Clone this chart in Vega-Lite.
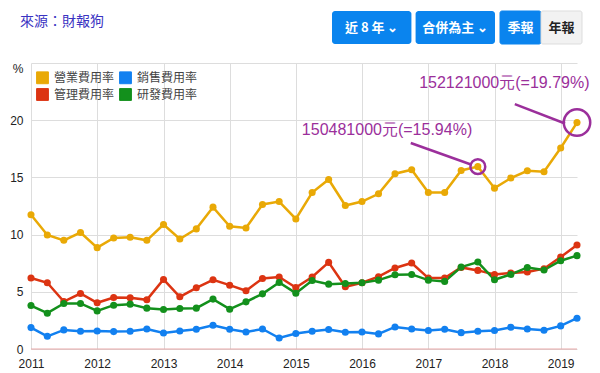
{
  "$schema": "https://vega.github.io/schema/vega-lite/v6.json",
  "background": "white",
  "padding": {"left": 9, "top": 10, "right": 0, "bottom": 0},
  "config": {
    "view": {"stroke": null},
    "font": "Liberation Sans"
  },
  "datasets": {
    "rates": [
      {"q": "2011-01-01", "s": "營業費用率", "v": 11.73}, {"q": "2011-04-01", "s": "營業費用率", "v": 9.97}, {"q": "2011-07-01", "s": "營業費用率", "v": 9.5}, {"q": "2011-10-01", "s": "營業費用率", "v": 10.18},
      {"q": "2012-01-01", "s": "營業費用率", "v": 8.86}, {"q": "2012-04-01", "s": "營業費用率", "v": 9.71}, {"q": "2012-07-01", "s": "營業費用率", "v": 9.77}, {"q": "2012-10-01", "s": "營業費用率", "v": 9.5},
      {"q": "2013-01-01", "s": "營業費用率", "v": 10.88}, {"q": "2013-04-01", "s": "營業費用率", "v": 9.62}, {"q": "2013-07-01", "s": "營業費用率", "v": 10.5}, {"q": "2013-10-01", "s": "營業費用率", "v": 12.4},
      {"q": "2014-01-01", "s": "營業費用率", "v": 10.73}, {"q": "2014-04-01", "s": "營業費用率", "v": 10.58}, {"q": "2014-07-01", "s": "營業費用率", "v": 12.63}, {"q": "2014-10-01", "s": "營業費用率", "v": 12.89},
      {"q": "2015-01-01", "s": "營業費用率", "v": 11.37}, {"q": "2015-04-01", "s": "營業費用率", "v": 13.68}, {"q": "2015-07-01", "s": "營業費用率", "v": 14.82}, {"q": "2015-10-01", "s": "營業費用率", "v": 12.54},
      {"q": "2016-01-01", "s": "營業費用率", "v": 12.89}, {"q": "2016-04-01", "s": "營業費用率", "v": 13.57}, {"q": "2016-07-01", "s": "營業費用率", "v": 15.32}, {"q": "2016-10-01", "s": "營業費用率", "v": 15.67},
      {"q": "2017-01-01", "s": "營業費用率", "v": 13.68}, {"q": "2017-04-01", "s": "營業費用率", "v": 13.68}, {"q": "2017-07-01", "s": "營業費用率", "v": 15.61}, {"q": "2017-10-01", "s": "營業費用率", "v": 15.94},
      {"q": "2018-01-01", "s": "營業費用率", "v": 14.06}, {"q": "2018-04-01", "s": "營業費用率", "v": 14.94}, {"q": "2018-07-01", "s": "營業費用率", "v": 15.58}, {"q": "2018-10-01", "s": "營業費用率", "v": 15.5},
      {"q": "2019-01-01", "s": "營業費用率", "v": 17.57}, {"q": "2019-04-01", "s": "營業費用率", "v": 19.79},

      {"q": "2011-01-01", "s": "銷售費用率", "v": 1.87}, {"q": "2011-04-01", "s": "銷售費用率", "v": 1.11}, {"q": "2011-07-01", "s": "銷售費用率", "v": 1.67}, {"q": "2011-10-01", "s": "銷售費用率", "v": 1.55},
      {"q": "2012-01-01", "s": "銷售費用率", "v": 1.58}, {"q": "2012-04-01", "s": "銷售費用率", "v": 1.52}, {"q": "2012-07-01", "s": "銷售費用率", "v": 1.55}, {"q": "2012-10-01", "s": "銷售費用率", "v": 1.75},
      {"q": "2013-01-01", "s": "銷售費用率", "v": 1.4}, {"q": "2013-04-01", "s": "銷售費用率", "v": 1.58}, {"q": "2013-07-01", "s": "銷售費用率", "v": 1.72}, {"q": "2013-10-01", "s": "銷售費用率", "v": 2.08},
      {"q": "2014-01-01", "s": "銷售費用率", "v": 1.72}, {"q": "2014-04-01", "s": "銷售費用率", "v": 1.49}, {"q": "2014-07-01", "s": "銷售費用率", "v": 1.75}, {"q": "2014-10-01", "s": "銷售費用率", "v": 0.96},
      {"q": "2015-01-01", "s": "銷售費用率", "v": 1.35}, {"q": "2015-04-01", "s": "銷售費用率", "v": 1.55}, {"q": "2015-07-01", "s": "銷售費用率", "v": 1.7}, {"q": "2015-10-01", "s": "銷售費用率", "v": 1.46},
      {"q": "2016-01-01", "s": "銷售費用率", "v": 1.49}, {"q": "2016-04-01", "s": "銷售費用率", "v": 1.32}, {"q": "2016-07-01", "s": "銷售費用率", "v": 1.93}, {"q": "2016-10-01", "s": "銷售費用率", "v": 1.75},
      {"q": "2017-01-01", "s": "銷售費用率", "v": 1.61}, {"q": "2017-04-01", "s": "銷售費用率", "v": 1.72}, {"q": "2017-07-01", "s": "銷售費用率", "v": 1.43}, {"q": "2017-10-01", "s": "銷售費用率", "v": 1.55},
      {"q": "2018-01-01", "s": "銷售費用率", "v": 1.61}, {"q": "2018-04-01", "s": "銷售費用率", "v": 1.9}, {"q": "2018-07-01", "s": "銷售費用率", "v": 1.75}, {"q": "2018-10-01", "s": "銷售費用率", "v": 1.64},
      {"q": "2019-01-01", "s": "銷售費用率", "v": 2.02}, {"q": "2019-04-01", "s": "銷售費用率", "v": 2.69},

      {"q": "2011-01-01", "s": "管理費用率", "v": 6.2}, {"q": "2011-04-01", "s": "管理費用率", "v": 5.79}, {"q": "2011-07-01", "s": "管理費用率", "v": 4.15}, {"q": "2011-10-01", "s": "管理費用率", "v": 4.85},
      {"q": "2012-01-01", "s": "管理費用率", "v": 4.04}, {"q": "2012-04-01", "s": "管理費用率", "v": 4.5}, {"q": "2012-07-01", "s": "管理費用率", "v": 4.47}, {"q": "2012-10-01", "s": "管理費用率", "v": 4.3},
      {"q": "2013-01-01", "s": "管理費用率", "v": 6.08}, {"q": "2013-04-01", "s": "管理費用率", "v": 4.56}, {"q": "2013-07-01", "s": "管理費用率", "v": 5.35}, {"q": "2013-10-01", "s": "管理費用率", "v": 6.05},
      {"q": "2014-01-01", "s": "管理費用率", "v": 5.58}, {"q": "2014-04-01", "s": "管理費用率", "v": 5.09}, {"q": "2014-07-01", "s": "管理費用率", "v": 6.17}, {"q": "2014-10-01", "s": "管理費用率", "v": 6.29},
      {"q": "2015-01-01", "s": "管理費用率", "v": 5.38}, {"q": "2015-04-01", "s": "管理費用率", "v": 6.29}, {"q": "2015-07-01", "s": "管理費用率", "v": 7.57}, {"q": "2015-10-01", "s": "管理費用率", "v": 5.44},
      {"q": "2016-01-01", "s": "管理費用率", "v": 5.79}, {"q": "2016-04-01", "s": "管理費用率", "v": 6.32}, {"q": "2016-07-01", "s": "管理費用率", "v": 7.08}, {"q": "2016-10-01", "s": "管理費用率", "v": 7.52},
      {"q": "2017-01-01", "s": "管理費用率", "v": 6.2}, {"q": "2017-04-01", "s": "管理費用率", "v": 6.2}, {"q": "2017-07-01", "s": "管理費用率", "v": 7.13}, {"q": "2017-10-01", "s": "管理費用率", "v": 6.87},
      {"q": "2018-01-01", "s": "管理費用率", "v": 6.52}, {"q": "2018-04-01", "s": "管理費用率", "v": 6.64}, {"q": "2018-07-01", "s": "管理費用率", "v": 6.73}, {"q": "2018-10-01", "s": "管理費用率", "v": 7.02},
      {"q": "2019-01-01", "s": "管理費用率", "v": 8.04}, {"q": "2019-04-01", "s": "管理費用率", "v": 9.09},

      {"q": "2011-01-01", "s": "研發費用率", "v": 3.8}, {"q": "2011-04-01", "s": "研發費用率", "v": 3.13}, {"q": "2011-07-01", "s": "研發費用率", "v": 3.98}, {"q": "2011-10-01", "s": "研發費用率", "v": 3.98},
      {"q": "2012-01-01", "s": "研發費用率", "v": 3.33}, {"q": "2012-04-01", "s": "研發費用率", "v": 3.83}, {"q": "2012-07-01", "s": "研發費用率", "v": 3.92}, {"q": "2012-10-01", "s": "研發費用率", "v": 3.57},
      {"q": "2013-01-01", "s": "研發費用率", "v": 3.45}, {"q": "2013-04-01", "s": "研發費用率", "v": 3.54}, {"q": "2013-07-01", "s": "研發費用率", "v": 3.57}, {"q": "2013-10-01", "s": "研發費用率", "v": 4.36},
      {"q": "2014-01-01", "s": "研發費用率", "v": 3.48}, {"q": "2014-04-01", "s": "研發費用率", "v": 4.12}, {"q": "2014-07-01", "s": "研發費用率", "v": 4.82}, {"q": "2014-10-01", "s": "研發費用率", "v": 5.82},
      {"q": "2015-01-01", "s": "研發費用率", "v": 4.88}, {"q": "2015-04-01", "s": "研發費用率", "v": 5.99}, {"q": "2015-07-01", "s": "研發費用率", "v": 5.67}, {"q": "2015-10-01", "s": "研發費用率", "v": 5.73},
      {"q": "2016-01-01", "s": "研發費用率", "v": 5.79}, {"q": "2016-04-01", "s": "研發費用率", "v": 6.02}, {"q": "2016-07-01", "s": "研發費用率", "v": 6.49}, {"q": "2016-10-01", "s": "研發費用率", "v": 6.52},
      {"q": "2017-01-01", "s": "研發費用率", "v": 6.02}, {"q": "2017-04-01", "s": "研發費用率", "v": 5.91}, {"q": "2017-07-01", "s": "研發費用率", "v": 7.16}, {"q": "2017-10-01", "s": "研發費用率", "v": 7.6},
      {"q": "2018-01-01", "s": "研發費用率", "v": 6.05}, {"q": "2018-04-01", "s": "研發費用率", "v": 6.52}, {"q": "2018-07-01", "s": "研發費用率", "v": 7.13}, {"q": "2018-10-01", "s": "研發費用率", "v": 6.9},
      {"q": "2019-01-01", "s": "研發費用率", "v": 7.72}, {"q": "2019-04-01", "s": "研發費用率", "v": 8.16}
    ],
    "notes": [
      {"label": "150481000元(=15.94%)", "q": "2017-10-01", "v": 15.94, "tx": "2016-05-18", "ty": 19.15, "lx": "2016-09-26", "ly": 18.01, "lx2": "2017-08-28", "ly2": 16.11},
      {"label": "152121000元(=19.79%)", "q": "2019-04-01", "v": 19.79, "tx": "2018-02-24", "ty": 23.22, "lx": "2018-04-23", "ly": 21.4, "lx2": "2019-01-25", "ly2": 19.71}
    ],
    "dropdowns": [{"b": "近 8 年 ⌄"}, {"b": "合併為主 ⌄"}],
    "toggles": [{"b": "季報", "on": true}, {"b": "年報", "on": false}],
    "source": [{"src": "來源：財報狗"}]
  },
  "vconcat": [
    {
      "hconcat": [
        {
          "width": 62,
          "height": 22,
          "data": {"name": "source"},
          "mark": {"type": "text", "font": "Noto Sans CJK TC", "fontSize": 14, "color": "#3a33c2"},
          "encoding": {"text": {"field": "src"}}
        },
        {
          "hconcat": [
            {
              "width": 163,
              "height": 33,
              "data": {"name": "dropdowns"},
              "encoding": {
                "x": {"field": "b", "type": "nominal", "sort": null, "axis": null,
                      "scale": {"paddingInner": 0.05, "paddingOuter": 0}}
              },
              "layer": [
                {"mark": {"type": "bar", "cornerRadius": 3, "color": "#0a84ee"}},
                {"mark": {"type": "text", "font": "Noto Sans CJK TC", "fontSize": 13, "fontWeight": "bold", "color": "#ffffff"},
                 "encoding": {"text": {"field": "b"}}}
              ]
            },
            {
              "width": 82,
              "height": 33,
              "data": {"name": "toggles"},
              "encoding": {
                "x": {"field": "b", "type": "nominal", "sort": null, "axis": null,
                      "scale": {"paddingInner": 0, "paddingOuter": 0}}
              },
              "layer": [
                {"mark": {"type": "bar", "cornerRadius": 2, "strokeWidth": 1},
                 "encoding": {
                   "color": {"condition": {"test": "datum.on", "value": "#0a84ee"}, "value": "#f2f2f2"},
                   "stroke": {"condition": {"test": "datum.on", "value": "#0a84ee"}, "value": "#dddddd"}
                 }},
                {"mark": {"type": "text", "font": "Noto Sans CJK TC", "fontSize": 13, "fontWeight": "bold"},
                 "encoding": {
                   "text": {"field": "b"},
                   "color": {"condition": {"test": "datum.on", "value": "#ffffff"}, "value": "#222222"}
                 }}
              ]
            }
          ],
          "spacing": 4
        }
      ],
      "spacing": 228
    },
    {
      "width": 546,
      "height": 286,
      "data": {"name": "rates"},
      "layer": [
        {
          "data": {"values": [{}]},
          "mark": {"type": "rule", "color": "#e8a8a8", "strokeWidth": 1},
          "encoding": {"y": {"datum": 0, "type": "quantitative", "title": null}}
        },
        {
          "mark": {"type": "line", "strokeWidth": 2.5},
          "encoding": {
            "x": {"field": "q", "type": "temporal", "title": null,
                  "scale": {"domain": ["2011-01-01", "2019-04-01"], "nice": false},
                  "axis": {"title": null, "format": "%Y", "tickCount": {"interval": "year", "step": 1},
                           "grid": true, "gridColor": "#dddddd", "domain": false, "ticks": false,
                           "labelFontSize": 12, "labelColor": "#222222", "labelPadding": 9, "labelFlush": false}},
            "y": {"field": "v", "type": "quantitative", "title": null,
                  "scale": {"domain": [0, 25], "nice": false},
                  "axis": {"title": null, "values": [0, 5, 10, 15, 20, 25],
                           "labelExpr": "datum.value == 25 ? '%' : datum.label",
                           "labelOffset": {"condition": {"test": "datum.value == 25", "value": 5}, "value": 0},
                           "grid": true, "gridColor": "#dddddd", "domain": false, "ticks": false,
                           "labelFontSize": 12, "labelColor": "#222222", "labelPadding": 8}},
            "color": {"field": "s", "type": "nominal", "title": null,
                      "scale": {"domain": ["營業費用率", "銷售費用率", "管理費用率", "研發費用率"],
                                "range": ["#e9a906", "#1280f0", "#dc3412", "#13901c"]}}
          }
        },
        {
          "mark": {"type": "point", "filled": true, "size": 50, "opacity": 1},
          "encoding": {
            "x": {"field": "q", "type": "temporal", "title": null},
            "y": {"field": "v", "type": "quantitative", "title": null},
            "color": {"field": "s", "type": "nominal", "title": null,
                      "legend": {"title": null, "orient": "none", "legendX": 5, "legendY": 60,
                                 "direction": "horizontal", "columns": 2,
                                 "symbolType": "square", "symbolSize": 140, "symbolOpacity": 1,
                                 "symbolStrokeWidth": 1, "labelOffset": 5,
                                 "labelFont": "Noto Sans CJK TC", "labelFontSize": 12, "labelColor": "#444444",
                                 "columnPadding": 2, "rowPadding": 0, "padding": 0}}
          }
        },
        {
          "data": {"name": "notes"},
          "mark": {"type": "rule", "color": "#9b2f9b", "strokeWidth": 2.5},
          "encoding": {
            "x": {"field": "lx", "type": "temporal", "title": null},
            "y": {"field": "ly", "type": "quantitative", "title": null},
            "x2": {"field": "lx2"},
            "y2": {"field": "ly2"}
          }
        },
        {
          "data": {"name": "notes"},
          "transform": [{"filter": "datum.v < 18"}],
          "mark": {"type": "point", "shape": "circle", "filled": false, "color": "#9b2f9b", "strokeWidth": 2.5, "size": 220, "opacity": 1},
          "encoding": {
            "x": {"field": "q", "type": "temporal", "title": null},
            "y": {"field": "v", "type": "quantitative", "title": null}
          }
        },
        {
          "data": {"name": "notes"},
          "transform": [{"filter": "datum.v >= 18"}],
          "mark": {"type": "point", "shape": "circle", "filled": false, "color": "#9b2f9b", "strokeWidth": 2.5, "size": 700, "opacity": 1},
          "encoding": {
            "x": {"field": "q", "type": "temporal", "title": null},
            "y": {"field": "v", "type": "quantitative", "title": null}
          }
        },
        {
          "data": {"name": "notes"},
          "mark": {"type": "text", "color": "#9b2f9b", "fontSize": 16, "font": "Liberation Sans"},
          "encoding": {
            "x": {"field": "tx", "type": "temporal", "title": null},
            "y": {"field": "ty", "type": "quantitative", "title": null},
            "text": {"field": "label"}
          }
        }
      ]
    }
  ],
  "spacing": 17
}
